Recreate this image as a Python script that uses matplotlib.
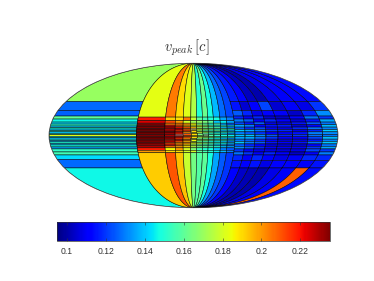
import matplotlib
matplotlib.use('Agg')
import numpy as np
import matplotlib.pyplot as plt
from matplotlib.patches import Rectangle
from matplotlib.collections import PatchCollection
from matplotlib.colors import Normalize

plt.rcParams['font.family'] = ['Liberation Sans', 'DejaVu Sans']
plt.rcParams['mathtext.fontset'] = 'cm'

title_text = r'$v_{peak}\,[c]$'
vmin, vmax = 0.095, 0.2352
cbar_ticks = [0.1, 0.12, 0.14, 0.16, 0.18, 0.2, 0.22]
cbar_labels = ['0.1', '0.12', '0.14', '0.16', '0.18', '0.2', '0.22']

lon_edges = [-180, -71, -35.9, -23, -13.1, -3.5, 4, 11.5, 18.4, 25.5, 33.9, 42.1,
             51.7, 64.2, 76.6, 90.3, 105.3, 123.6, 142.6, 161, 180]
lat_left = [90, 35, 25.5, 19.8, 16.7, 13.6, 11.6, 9.6, 8, 6.5, 5, 3.7, 2.2, .8,
            -.8, -2.2, -3.7, -5, -6.5, -8, -9.6, -11.6, -13.6, -16.7, -19.8, -24.5, -33.5, -90]
lat_fine = [90, 18.7, 15, 12.5, 10.5, 8.7, 7, 5.5, 4, 2.5, 1,
            -1, -2.5, -4, -5.5, -7, -8.7, -10.5, -12.5, -15, -17.5, -90]
lat_right = [90, 35, 25.5, 19.8, 16.7, 13.6, 11, 8.5, 6, 3.7, 1,
             -1, -3.7, -6, -8.5, -11, -13.6, -16.7, -19.8, -25.5, -33.5, -90]

col00 = [.17,.127,.126,.16,.147,.143,.15,.14,.148,.142,.15,.14,.146,.183,.148,.14,.146,.138,.15,.14,.148,.135,.152,.155,.143,.127,.147]
col01 = [.183,.218,.224,.232,.234,.232,.235,.233,.234,.232,.235,.232,.234,.23,.233,.232,.228,.226,.218,.2,.192]
col02 = [.204,.192,.212,.205,.222,.23,.222,.228,.232,.226,.23,.226,.23,.218,.226,.212,.22,.205,.185,.19,.21]
col03 = [.19,.19,.2,.205,.21,.22,.225,.215,.22,.218,.222,.22,.215,.22,.21,.2,.205,.198,.2,.19,.194]
col04 = [.182,.205,.18,.2,.195,.21,.205,.215,.2,.21,.205,.21,.2,.205,.195,.2,.19,.188,.18,.18,.178]
col05 = [.174,.178,.172,.185,.18,.195,.188,.19,.18,.19,.185,.19,.178,.185,.175,.18,.172,.175,.165,.18,.164]
col06 = [.15,.16,.17,.165,.18,.17,.178,.168,.178,.165,.17,.175,.165,.17,.16,.172,.16,.165,.155,.16,.158]
col07 = [.162,.155,.165,.16,.17,.162,.168,.158,.17,.16,.165,.17,.16,.168,.155,.165,.155,.16,.15,.155,.16]
col08 = [.148,.15,.16,.15,.16,.155,.165,.152,.16,.15,.158,.165,.15,.16,.148,.158,.15,.155,.148,.15,.148]
col09 = [.138,.148,.14,.155,.145,.158,.15,.16,.145,.155,.15,.158,.145,.155,.145,.15,.142,.15,.14,.145,.135]
col10 = [.127,.135,.145,.135,.15,.14,.155,.14,.15,.14,.148,.15,.138,.152,.14,.148,.135,.14,.13,.138,.125]
col11 = [.122,.13,.135,.125,.145,.13,.15,.135,.145,.13,.145,.15,.13,.145,.13,.14,.128,.135,.125,.13,.12]
col12 = [.116,.115,.125,.118,.13,.122,.135,.125,.14,.13,.14,.135,.128,.14,.125,.132,.12,.128,.118,.115,.112]
col13 = [.112,.105,.118,.11,.125,.115,.13,.118,.135,.125,.14,.135,.125,.13,.118,.125,.112,.12,.11,.112,.104]
col14 = [.103,.112,.108,.118,.11,.125,.112,.122,.128,.12,.132,.128,.118,.125,.11,.118,.108,.112,.118,.115,.102]
col15 = [.101,.122,.112,.105,.118,.108,.115,.11,.12,.112,.125,.12,.11,.115,.105,.112,.108,.118,.112,.108,.101]
col16 = [.108,.105,.11,.104,.112,.106,.116,.108,.118,.11,.118,.112,.105,.112,.104,.11,.106,.112,.108,.113,.108]
col17 = [.11,.11,.104,.112,.106,.115,.105,.118,.108,.115,.12,.112,.106,.115,.104,.11,.108,.104,.11,.112,.11]
col18 = [.112,.108,.118,.128,.115,.125,.112,.128,.118,.13,.128,.122,.115,.128,.11,.12,.122,.112,.118,.11,.208]
col19 = [.114,.12,.132,.12,.135,.128,.138,.13,.14,.132,.128,.138,.13,.14,.128,.135,.12,.13,.118,.115,.114]

columns = [col00, col01, col02, col03, col04, col05, col06, col07, col08, col09,
           col10, col11, col12, col13, col14, col15, col16, col17, col18, col19]

W, H = 374, 281
fig = plt.figure(figsize=(W/100, H/100), dpi=100)
ax = fig.add_axes([49/W, (H-208)/H, 289/W, 145/H], projection='mollweide')
ax.set_xticks([]); ax.set_yticks([]); ax.grid(False)
for s in ax.spines.values():
    s.set_linewidth(0.5); s.set_edgecolor('#444444')

patches, vals = [], []
for i, col in enumerate(columns):
    lats = lat_left if i == 0 else (lat_fine if i < 12 else lat_right)
    for j, v in enumerate(col):
        lo, hi = lats[j+1], lats[j]
        patches.append(Rectangle((np.radians(lon_edges[i]), np.radians(lo)),
                                 np.radians(lon_edges[i+1]-lon_edges[i]),
                                 np.radians(hi-lo)))
        vals.append(v)
norm = Normalize(vmin, vmax)
pc = PatchCollection(patches, cmap='jet', norm=norm, edgecolor=(0, 0, 0, 0.85), linewidth=0.4)
pc.set_array(np.array(vals))
ax.add_collection(pc)

fig.text(187/W, 1-48/H, title_text, fontsize=10.5, ha='center', va='center', color='#333333')

cax = fig.add_axes([57/W, (H-240.5)/H, 273/W, 18.5/H])
cb = fig.colorbar(pc, cax=cax, orientation='horizontal')
cb.set_ticks(cbar_ticks, labels=cbar_labels)
cb.outline.set_linewidth(0.5); cb.outline.set_edgecolor('#333333')
cax.tick_params(axis='x', which='major', direction='in', top=True, bottom=True,
                length=2.5, width=0.4, labelsize=6.2, pad=4.5, colors='#333333')
cax.minorticks_off()
fig.savefig('out.png', dpi=100)
